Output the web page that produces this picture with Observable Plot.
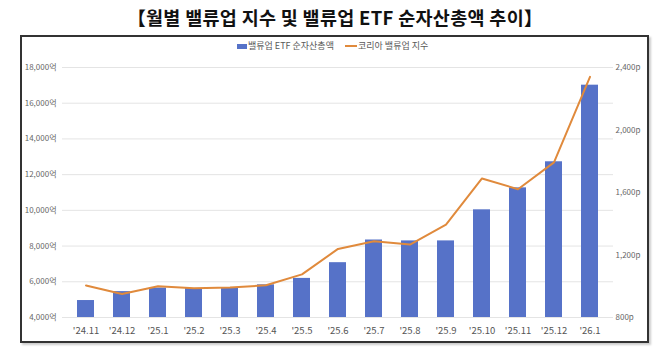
<!DOCTYPE html>
<html><head><meta charset="utf-8">
<script src="https://cdn.jsdelivr.net/npm/d3@7"></script>
<script src="https://cdn.jsdelivr.net/npm/@observablehq/plot@0.6"></script>
<style>
body{margin:0;background:#fff;font-family:"Noto Sans CJK KR","Noto Sans",sans-serif}
#wrap{position:relative;width:670px;height:351px;overflow:hidden;background:#fff}
#title{position:absolute;top:4px;left:0;width:670px;text-align:center;font-size:18.5px;font-weight:700;color:#111;line-height:26px;letter-spacing:0.3px}
#frame{position:absolute;left:20px;top:35px;width:629px;height:308px;border:2px solid #333;box-sizing:border-box;box-shadow:2px 2px 2px #ccc}
#legend{position:absolute;top:39px;left:0;width:670px;font-size:9px;color:#595959;line-height:14px}
.sw{position:absolute}
#chart{position:absolute;left:0;top:0}
</style></head><body>
<div id="wrap">
  <div id="title">【월별 밸류업 지수 및 밸류업 ETF 순자산총액 추이】</div>
  <div id="frame"></div>
  <div id="legend">
    <span class="sw" style="left:237px;top:5px;width:10px;height:5px;background:#5672C8"></span>
    <span class="sw" style="left:248px;top:0px">밸류업 ETF 순자산총액</span>
    <span class="sw" style="left:345px;top:6px;width:12px;height:2px;background:#E08A3C"></span>
    <span class="sw" style="left:358px;top:0px">코리아 밸류업 지수</span>
  </div>
  <div id="chart"></div>
</div>
<script>
const months = ["'24.11","'24.12","'25.1","'25.2","'25.3","'25.4","'25.5","'25.6","'25.7","'25.8","'25.9","'25.10","'25.11","'25.12","'26.1"];
const etfAssets = [4950, 5450, 5650, 5620, 5640, 5830, 6190, 7070, 8340, 8290, 8290, 10030, 11260, 12720, 17010];
const valueUpIndex = [1005, 950, 1000, 987, 992, 1006, 1076, 1239, 1288, 1267, 1395, 1690, 1621, 1793, 2340];
const leftTicks = [4000, 6000, 8000, 10000, 12000, 14000, 16000, 18000];
const rightTicks = [800, 1200, 1600, 2000, 2400];

// secondary axis: 800p..2400p maps onto 4,000..18,000 of the primary axis
const toLeft = v => 4000 + (v - 800) * (14000 / 1600);

const bars = months.map((m, i) => ({m, v: etfAssets[i]}));
const line = months.map((m, i) => ({m, v: toLeft(valueUpIndex[i])}));
const fmt = d3.format(",");

const chart = Plot.plot({
  width: 670,
  height: 351,
  marginTop: 67,
  marginBottom: 34,
  marginLeft: 62,
  marginRight: 57,
  style: {fontFamily: '"Noto Sans CJK KR","Noto Sans",sans-serif', background: "transparent", overflow: "visible"},
  x: {type: "band", domain: months, paddingInner: 0.52, paddingOuter: 0.25},
  y: {domain: [4000, 18000]},
  marks: [
    Plot.gridY(leftTicks, {stroke: "#e4e4e4", strokeOpacity: 1}),
    Plot.barY(bars, {x: "m", y1: 4000, y2: "v", fill: "#5672C8"}),
    Plot.line(line, {x: "m", y: "v", stroke: "#E08A3C", strokeWidth: 2}),
    Plot.axisY(leftTicks, {anchor: "left", label: null, tickSize: 0, tickPadding: 6, fontSize: 8, fill: "#666", tickFormat: d => fmt(d) + "억"}),
    Plot.axisY(rightTicks.map(toLeft), {anchor: "right", label: null, tickSize: 0, tickPadding: 2, fontSize: 8, fill: "#666", tickFormat: (d, i) => fmt(rightTicks[i]) + "p"}),
    Plot.axisX({tickSize: 0, tickPadding: 10, fontSize: 9.5, fill: "#555", label: null})
  ]
});
document.getElementById("chart").appendChild(chart);
</script>
</body></html>
